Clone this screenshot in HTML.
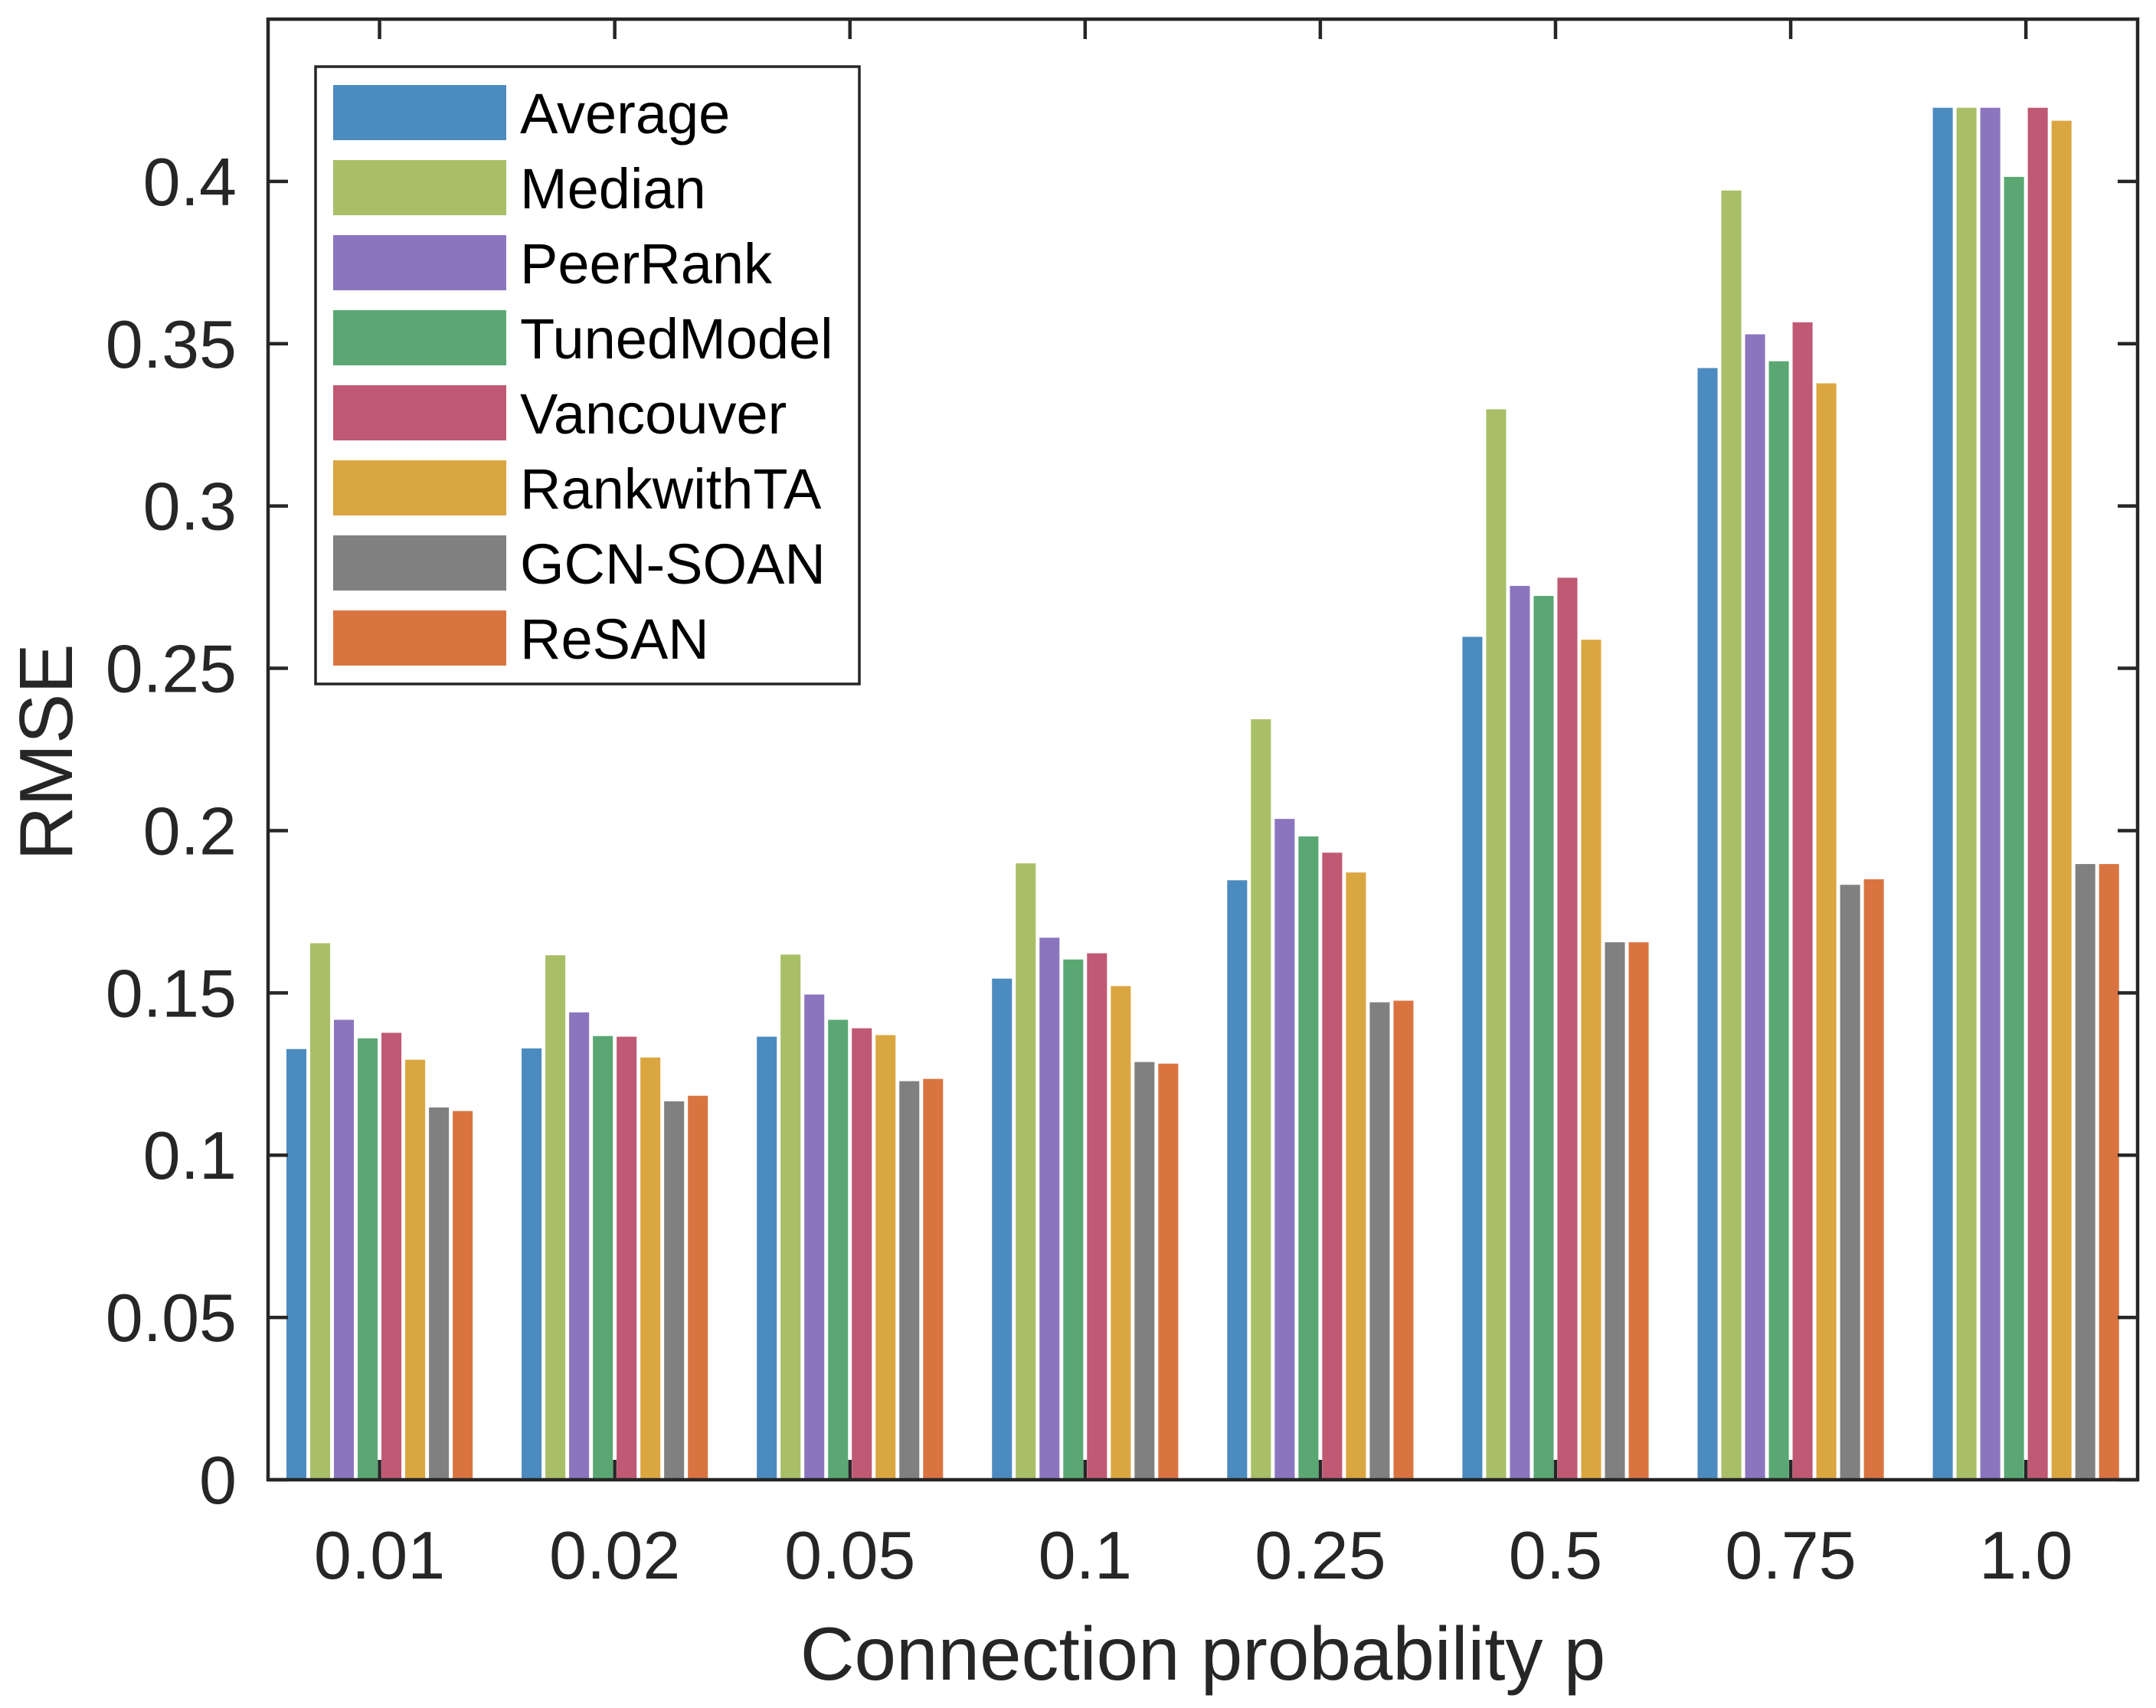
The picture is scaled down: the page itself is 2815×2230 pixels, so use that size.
<!DOCTYPE html>
<html><head><meta charset="utf-8">
<style>html,body{margin:0;padding:0;background:#fff}svg{display:block}text{font-family:"Liberation Sans",Arial,sans-serif;fill:#262626}</style>
</head><body>
<svg id="chart" width="2815" height="2230" viewBox="0 0 2815 2230" xmlns="http://www.w3.org/2000/svg">
<rect x="0" y="0" width="2815" height="2230" fill="#fff"/>
<g id="bars"></g>
<g id="axes"></g>
<g id="legend"></g>
</svg>
<script>
const categories = ["0.01","0.02","0.05","0.1","0.25","0.5","0.75","1.0"];
const seriesNames = ["Average","Median","PeerRank","TunedModel","Vancouver","RankwithTA","GCN-SOAN","ReSAN"];
const seriesColors = ["#4C8BBF","#A8BF67","#8C75BF","#5AA773","#C05973","#DAA640","#808080","#D97441"];
const average    = [0.1327,0.1329,0.1365,0.1544,0.1847,0.2597,0.3425,0.4227];
const median     = [0.1653,0.1616,0.1618,0.1899,0.2343,0.3298,0.3972,0.4227];
const peerRank   = [0.1417,0.1440,0.1495,0.1670,0.2036,0.2754,0.3529,0.4227];
const tunedModel = [0.1360,0.1367,0.1417,0.1603,0.1982,0.2723,0.3446,0.4014];
const vancouver  = [0.1377,0.1365,0.1391,0.1622,0.1932,0.2779,0.3566,0.4227];
const rankwithTA = [0.1294,0.1301,0.1370,0.1521,0.1871,0.2588,0.3378,0.4187];
const gcnSoan    = [0.1147,0.1166,0.1228,0.1287,0.1471,0.1656,0.1833,0.1897];
const resan      = [0.1136,0.1183,0.1235,0.1282,0.1476,0.1656,0.1850,0.1897];
const yTicks = [0,0.05,0.1,0.15,0.2,0.25,0.3,0.35,0.4];
const yTickLabels = ["0","0.05","0.1","0.15","0.2","0.25","0.3","0.35","0.4"];

const series = [average,median,peerRank,tunedModel,vancouver,rankwithTA,gcnSoan,resan];
const NS="http://www.w3.org/2000/svg";
const L=350,R=2791,T=25,B=1932;
const xMin=0.526,xMax=8.475,yMin=0,yMax=0.45;
function xScale(v){return L+(v-xMin)/(xMax-xMin)*(R-L);}
function yScale(v){return B-(v-yMin)/(yMax-yMin)*(B-T);}
const groupW=xScale(2)-xScale(1);
const pitch=groupW*0.101, barW=pitch*0.84;
function mk(tag,attrs,parent,txt){const e=document.createElementNS(NS,tag);for(const k in attrs)e.setAttribute(k,attrs[k]);if(txt!==undefined)e.textContent=txt;parent.appendChild(e);return e;}
const gb=document.getElementById('bars');
series.forEach((vals,s)=>{
  vals.forEach((v,i)=>{
    const cx=xScale(i+1)+(s-3.5)*pitch;
    const r=mk('rect',{x:cx-barW/2,y:yScale(v),width:barW,height:yScale(0)-yScale(v),fill:seriesColors[s]},gb);
    
    
  });
});
const ga=document.getElementById('axes');
const st='#262626';
const box=mk('rect',{x:L,y:T,width:R-L,height:B-T,fill:'none',stroke:st,'stroke-width':4.5},ga);


const tl=26;
yTicks.forEach((v,i)=>{
  const y=yScale(v);
  mk('line',{x1:L,x2:L+tl,y1:y,y2:y,stroke:st,'stroke-width':4.5},ga);
  mk('line',{x1:R,x2:R-tl,y1:y,y2:y,stroke:st,'stroke-width':4.5},ga);
  const t=mk('text',{x:309,y:y+31,'text-anchor':'end','font-size':88},ga,yTickLabels[i]);
  
  
});
categories.forEach((c,i)=>{
  const x=xScale(i+1);
  mk('line',{x1:x,x2:x,y1:B,y2:B-tl,stroke:st,'stroke-width':4.5},ga);
  mk('line',{x1:x,x2:x,y1:T,y2:T+tl,stroke:st,'stroke-width':4.5},ga);
  const t=mk('text',{x:x,y:2061,'text-anchor':'middle','font-size':88},ga,c);
  
  
});
const xt=mk('text',{x:(L+R)/2,y:2193,'text-anchor':'middle','font-size':98},ga,'Connection probability p');


const yt=mk('text',{x:0,y:0,'text-anchor':'middle','font-size':98,transform:'translate(94,982) rotate(-90)'},ga,'RMSE');


const gl=document.getElementById('legend');
const lb=mk('rect',{x:412,y:87,width:710,height:806,fill:'#fff',stroke:st,'stroke-width':3.5},gl);


seriesNames.forEach((n,s)=>{
  const y=111+s*98;
  const g=mk('g',{},gl);
  
  
  mk('rect',{x:435,y:y,width:226,height:72,fill:seriesColors[s]},g);
  mk('text',{x:679,y:y+36+27,'font-size':74,style:'fill:#000'},g,n);
});
</script>
</body></html>
